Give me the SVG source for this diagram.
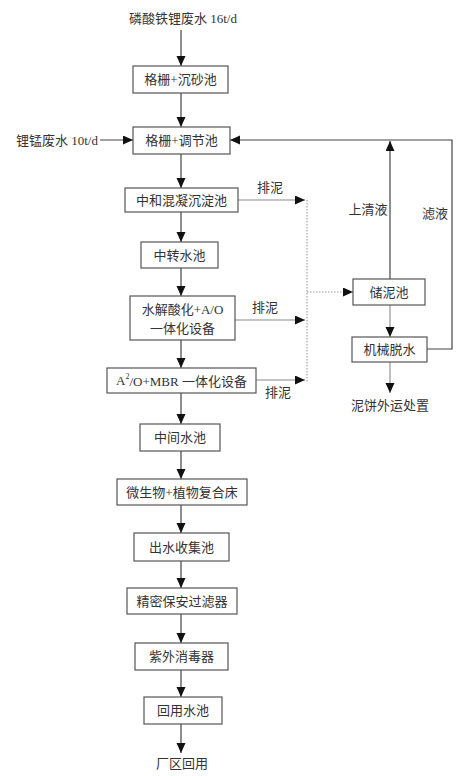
<svg xmlns="http://www.w3.org/2000/svg" width="468" height="776" viewBox="0 0 468 776">
<style>
text{font-family:"Liberation Serif","Noto Sans CJK SC",serif;font-size:13px;fill:#333;text-anchor:middle;dominant-baseline:central}
.box{fill:#fff;stroke:#555;stroke-width:1.2}
.ln{fill:none;stroke:#444;stroke-width:1.2}
.gl{fill:none;stroke:#8a8a8a;stroke-width:1.1}
.dt{fill:none;stroke:#999;stroke-width:1.1;stroke-dasharray:1.5 1.5}
</style>
<defs>
<marker id="ah" markerUnits="userSpaceOnUse" markerWidth="11" markerHeight="10" refX="10" refY="4.5" orient="auto">
<path d="M0,0 L10,4.5 L0,9 z" fill="#111"/>
</marker>
</defs>
<rect width="468" height="776" fill="#fff"/>
<g id="connectors">
<path class="ln" d="M181,30 V66" marker-end="url(#ah)"/>
<path class="ln" d="M181,93 V127" marker-end="url(#ah)"/>
<path class="ln" d="M181,154 V188" marker-end="url(#ah)"/>
<path class="ln" d="M181,212 V242" marker-end="url(#ah)"/>
<path class="ln" d="M181,268 V296" marker-end="url(#ah)"/>
<path class="ln" d="M181,340 V368" marker-end="url(#ah)"/>
<path class="ln" d="M181,393 V424" marker-end="url(#ah)"/>
<path class="ln" d="M181,451 V479" marker-end="url(#ah)"/>
<path class="ln" d="M181,505 V533" marker-end="url(#ah)"/>
<path class="ln" d="M181,561 V588" marker-end="url(#ah)"/>
<path class="ln" d="M181,614 V643" marker-end="url(#ah)"/>
<path class="ln" d="M181,670 V697" marker-end="url(#ah)"/>
<path class="ln" d="M181,724 V753" marker-end="url(#ah)"/>
<path class="ln" d="M100,140 H133" marker-end="url(#ah)"/>
<path class="ln" d="M427,349 H452 V140 H230" marker-end="url(#ah)"/>
<path class="ln" d="M390,279 V141" marker-end="url(#ah)"/>
<path class="gl" d="M238,200 H305" marker-end="url(#ah)"/>
<path class="gl" d="M235,320 H305" marker-end="url(#ah)"/>
<path class="gl" d="M256,380 H305" marker-end="url(#ah)"/>
<path class="dt" d="M307,200 V382"/>
<path class="dt" d="M307,292 H353" marker-end="url(#ah)"/>
<path class="gl" d="M390,305 V337" marker-end="url(#ah)"/>
<path class="gl" d="M390,362 V393" marker-end="url(#ah)"/>
</g>
<g id="labels">
<text x="183" y="18">磷酸铁锂废水 16t/d</text>
<text x="57" y="140">锂锰废水 10t/d</text>
<text x="270" y="187">排泥</text>
<text x="265" y="307">排泥</text>
<text x="278" y="392">排泥</text>
<text x="368" y="209">上清液</text>
<text x="435" y="213">滤液</text>
<text x="390" y="405">泥饼外运处置</text>
<text x="182" y="763">厂区回用</text>
</g>
<g id="n1"><rect class="box" x="133" y="66" width="95" height="27"/><text x="180.5" y="79.5">格栅+沉砂池</text></g>
<g id="n2"><rect class="box" x="133" y="127" width="97" height="27"/><text x="181.5" y="140.5">格栅+调节池</text></g>
<g id="n3"><rect class="box" x="125" y="188" width="113" height="24"/><text x="181.5" y="200">中和混凝沉淀池</text></g>
<g id="n4"><rect class="box" x="141" y="242" width="77" height="26"/><text x="179.5" y="255">中转水池</text></g>
<g id="n5"><rect class="box" x="130" y="296" width="105" height="44"/><text x="182.5" y="309">水解酸化+A/O</text><text x="182.5" y="328">一体化设备</text></g>
<g id="n6"><rect class="box" x="107" y="368" width="149" height="25"/><text x="181.5" y="380.5">A<tspan font-size="8" dy="-5">2</tspan><tspan dy="5">/O+MBR 一体化设备</tspan></text></g>
<g id="n7"><rect class="box" x="140" y="424" width="80" height="27"/><text x="180" y="437.5">中间水池</text></g>
<g id="n8"><rect class="box" x="117" y="479" width="130" height="26"/><text x="182" y="492">微生物+植物复合床</text></g>
<g id="n9"><rect class="box" x="134" y="533" width="95" height="28"/><text x="181.5" y="547">出水收集池</text></g>
<g id="n10"><rect class="box" x="127" y="588" width="110" height="26"/><text x="182" y="601">精密保安过滤器</text></g>
<g id="n11"><rect class="box" x="135" y="643" width="93" height="27"/><text x="181.5" y="656.5">紫外消毒器</text></g>
<g id="n12"><rect class="box" x="144" y="697" width="78" height="27"/><text x="183" y="710.5">回用水池</text></g>
<g id="n13"><rect class="box" x="353" y="279" width="72" height="26"/><text x="389" y="292">储泥池</text></g>
<g id="n14"><rect class="box" x="352" y="337" width="75" height="25"/><text x="389.5" y="349.5">机械脱水</text></g>
</svg>
